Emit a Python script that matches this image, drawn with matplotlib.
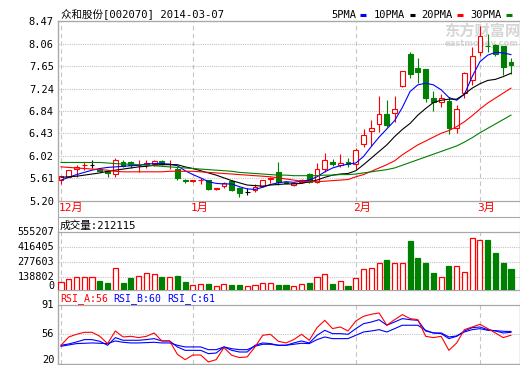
import numpy as np
import matplotlib
matplotlib.use('Agg')
import matplotlib.pyplot as plt
import matplotlib.transforms as mtransforms
from matplotlib.lines import Line2D

# 众和股份 daily bars, 2013-12-09 .. 2014-03-07
opens = [5.59, 5.64, 5.78, 5.85, 5.86, 5.78, 5.75, 5.69, 5.90, 5.91,
         5.85, 5.88, 5.88, 5.93, 5.87, 5.78, 5.58, 5.56, 5.58, 5.58,
         5.41, 5.47, 5.57, 5.44, 5.37, 5.40, 5.47, 5.60, 5.72, 5.55,
         5.49, 5.55, 5.69, 5.55, 5.78, 5.91, 5.86, 5.90, 5.87, 6.23,
         6.48, 6.59, 6.78, 6.79, 7.29, 7.87, 7.61, 7.59, 7.08, 7.00,
         7.02, 6.52, 7.17, 7.40, 7.90, 8.02, 8.03, 8.02, 7.73]
highs = [5.66, 5.77, 5.85, 5.91, 5.94, 5.80, 5.77, 5.98, 5.94, 5.93,
         5.95, 5.94, 5.95, 5.95, 5.95, 5.82, 5.60, 5.59, 5.62, 5.59,
         5.44, 5.55, 5.59, 5.46, 5.43, 5.50, 5.59, 5.64, 5.91, 5.57,
         5.55, 5.60, 5.70, 5.89, 6.07, 5.96, 6.05, 5.99, 6.17, 6.50,
         6.68, 7.10, 7.04, 7.10, 7.57, 7.90, 7.79, 7.59, 7.20, 7.14,
         7.09, 6.94, 7.55, 8.00, 8.38, 8.23, 8.06, 8.02, 7.79]
lows = [5.50, 5.63, 5.63, 5.76, 5.80, 5.72, 5.64, 5.64, 5.82, 5.80,
        5.73, 5.80, 5.84, 5.86, 5.79, 5.58, 5.53, 5.55, 5.50, 5.40,
        5.40, 5.43, 5.38, 5.27, 5.31, 5.37, 5.46, 5.53, 5.49, 5.50,
        5.48, 5.53, 5.52, 5.53, 5.73, 5.84, 5.82, 5.82, 5.78, 6.19,
        6.20, 6.46, 6.55, 6.64, 7.28, 7.43, 7.34, 6.99, 6.84, 6.91,
        6.42, 6.44, 7.08, 7.31, 7.83, 7.91, 7.83, 7.49, 7.51]
closes = [5.65, 5.76, 5.82, 5.86, 5.86, 5.75, 5.71, 5.95, 5.84, 5.86,
          5.86, 5.89, 5.93, 5.87, 5.88, 5.61, 5.56, 5.59, 5.59, 5.41,
          5.44, 5.53, 5.40, 5.35, 5.37, 5.46, 5.59, 5.61, 5.55, 5.52,
          5.53, 5.59, 5.55, 5.79, 5.95, 5.87, 5.89, 5.87, 6.13, 6.39,
          6.52, 6.78, 6.58, 6.88, 7.57, 7.51, 7.55, 7.08, 6.99, 7.07,
          6.52, 6.87, 7.52, 7.83, 8.20, 8.01, 7.87, 7.63, 7.67]
volumes = [92500, 117500, 138800, 138800, 138800, 101800, 83300, 216500, 83300, 126800,
           142500, 170300, 163800, 136000, 136000, 145300, 92500, 62000, 68500, 71200,
           50000, 68500, 62000, 62000, 50000, 59200, 77700, 77700, 62000, 62000,
           50000, 71200, 83300, 133200, 163800, 71200, 99000, 52700, 124000, 207300,
           216500, 262800, 293300, 262800, 262800, 469100, 311800, 265600, 173000, 133200,
           237800, 235000, 182300, 494100, 478400, 478400, 360900, 265600, 212115]

ma5 = [5.58, 5.63, 5.68, 5.72, 5.76, 5.79, 5.81, 5.82, 5.83, 5.84,
       5.85, 5.87, 5.88, 5.88, 5.87, 5.84, 5.75, 5.68, 5.62, 5.55,
       5.52, 5.51, 5.51, 5.46, 5.42, 5.41, 5.45, 5.50, 5.53, 5.55,
       5.54, 5.56, 5.58, 5.64, 5.73, 5.80, 5.84, 5.87, 5.89, 6.01,
       6.19, 6.36, 6.51, 6.66, 6.90, 7.19, 7.31, 7.34, 7.31, 7.22,
       7.08, 7.03, 7.14, 7.46, 7.73, 7.85, 7.90, 7.89, 7.86]
ma10 = [5.63, 5.64, 5.65, 5.67, 5.69, 5.71, 5.74, 5.76, 5.78, 5.80,
        5.82, 5.83, 5.85, 5.86, 5.86, 5.86, 5.82, 5.79, 5.75, 5.71,
        5.67, 5.62, 5.57, 5.53, 5.49, 5.48, 5.47, 5.49, 5.50, 5.51,
        5.51, 5.52, 5.55, 5.58, 5.63, 5.67, 5.69, 5.70, 5.75, 5.86,
        5.98, 6.10, 6.22, 6.37, 6.50, 6.61, 6.76, 6.88, 6.99, 7.03,
        7.05, 7.05, 7.14, 7.25, 7.33, 7.39, 7.41, 7.46, 7.52]
ma20 = [5.82, 5.81, 5.80, 5.79, 5.78, 5.77, 5.76, 5.74, 5.73, 5.73,
        5.73, 5.73, 5.73, 5.73, 5.74, 5.74, 5.74, 5.74, 5.73, 5.72,
        5.71, 5.70, 5.69, 5.68, 5.67, 5.66, 5.65, 5.64, 5.62, 5.60,
        5.58, 5.56, 5.55, 5.55, 5.56, 5.57, 5.58, 5.59, 5.64, 5.68,
        5.74, 5.80, 5.86, 5.93, 6.04, 6.13, 6.22, 6.29, 6.36, 6.43,
        6.48, 6.55, 6.64, 6.75, 6.87, 6.98, 7.07, 7.16, 7.25]
ma30 = [5.90, 5.90, 5.90, 5.90, 5.90, 5.90, 5.89, 5.88, 5.87, 5.87,
        5.86, 5.85, 5.84, 5.83, 5.82, 5.81, 5.80, 5.79, 5.78, 5.77,
        5.76, 5.75, 5.74, 5.72, 5.71, 5.70, 5.69, 5.68, 5.67, 5.67,
        5.66, 5.66, 5.66, 5.66, 5.67, 5.67, 5.68, 5.68, 5.69, 5.71,
        5.73, 5.75, 5.77, 5.80, 5.85, 5.90, 5.95, 6.00, 6.05, 6.10,
        6.15, 6.20, 6.27, 6.35, 6.44, 6.52, 6.60, 6.68, 6.76]

rsi_a = [42.9, 52.9, 56.1, 58.5, 58.5, 53.7, 44.9, 60.1, 52.9, 53.7,
         52.1, 53.7, 57.7, 48.1, 48.1, 32.0, 25.6, 31.2, 31.2, 22.8,
         25.6, 40.1, 30.9, 28.1, 28.9, 40.9, 54.9, 56.1, 47.7, 45.7,
         49.7, 56.1, 48.9, 64.1, 72.9, 63.0, 64.9, 60.1, 72.1, 77.8,
         80.2, 81.8, 67.0, 73.7, 79.8, 75.0, 73.7, 53.7, 52.1, 53.7,
         36.8, 45.7, 61.7, 64.9, 68.1, 63.0, 57.7, 52.1, 55.0]
rsi_b = [42.9, 44.5, 46.9, 49.7, 49.7, 47.7, 42.9, 52.1, 48.9, 48.9,
         48.9, 49.7, 50.9, 48.1, 48.1, 40.9, 36.8, 36.8, 36.8, 32.8,
         33.6, 40.9, 36.8, 34.8, 34.8, 42.9, 45.7, 44.9, 42.9, 42.9,
         45.7, 48.1, 45.7, 54.9, 60.9, 56.9, 56.9, 56.1, 62.9, 68.9,
         70.9, 73.7, 67.0, 70.9, 75.0, 73.7, 72.9, 60.1, 57.7, 56.9,
         50.9, 53.7, 60.1, 64.1, 64.9, 61.7, 60.1, 57.7, 58.5]
rsi_c = [41.7, 43.3, 44.9, 45.3, 45.7, 45.3, 44.9, 48.1, 46.5, 45.7,
         45.7, 46.1, 46.5, 45.7, 45.7, 42.9, 40.9, 40.9, 40.9, 37.6,
         37.6, 40.9, 38.8, 37.6, 37.6, 41.7, 44.1, 44.1, 42.9, 42.9,
         44.1, 45.3, 44.9, 49.7, 52.9, 50.9, 50.9, 50.9, 54.9, 58.9,
         60.1, 61.7, 58.9, 62.9, 67.0, 67.0, 67.0, 60.9, 57.7, 57.7,
         52.9, 54.1, 58.9, 61.7, 62.9, 60.9, 60.5, 59.7, 59.5]

price_ticks = [5.20, 5.61, 6.02, 6.43, 6.84, 7.24, 7.65, 8.06, 8.47]
vol_ticks = [0, 138802, 277603, 416405, 555207]
rsi_ticks = [20, 56, 91]
month_idx = [0, 17, 38, 54]
month_labels = ['12月', '1月', '2月', '3月']
ma_names = ['5PMA', '10PMA', '20PMA', '30PMA']

RED = '#ff0000'
GREEN = '#008000'
BLUE = '#0000ff'
GRID = '#c4c4c4'
FRAME = '#a8a8a8'
ma_colors = [BLUE, 'black', RED, GREEN]
MONO = ['DejaVu Sans Mono', 'Noto Sans CJK SC']

W, H = 520, 365
fig = plt.figure(figsize=(W / 100, H / 100), dpi=100)


def box(left, top, right, bottom):
    return [left / W, 1 - bottom / H, (right - left) / W, (bottom - top) / H]


x = np.arange(len(closes))
o, h, l, c = map(np.array, (opens, highs, lows, closes))
xlim = (-0.39, 59.1)

# background frame for strips between panels
bg = fig.add_axes(box(58, 21, 519.5, 364.3), zorder=0)
bg.set_xticks([]); bg.set_yticks([])
for s in bg.spines.values():
    s.set_color(FRAME)
fig.add_artist(Line2D([58 / W, 519.5 / W], [1 - 216.7 / H] * 2, color=FRAME, lw=0.8))

ax = fig.add_axes(box(58, 21, 519.5, 201), zorder=2)
av = fig.add_axes(box(58, 231.7, 519.5, 289.5), zorder=2)
ar = fig.add_axes(box(58, 305.3, 519.5, 364.3), zorder=2)

for a in (ax, av, ar):
    a.set_xlim(*xlim)
    a.set_xticks([])
    a.patch.set_alpha(0)
    for s in a.spines.values():
        s.set_color(FRAME)
        s.set_linewidth(0.9)
    a.tick_params(axis='y', length=0, pad=3)
    for m in month_idx:
        a.axvline(m, color=GRID, ls=(0, (4, 3)), lw=0.8, zorder=0)

# watermark, behind the candles
fig.text(482 / W, 1 - 31 / H, '东方财富网', color='#d6d6d6', fontsize=11,
         family=['Noto Sans CJK SC'], fontweight='bold', ha='center', va='center', zorder=1)
fig.text(482 / W, 1 - 43 / H, 'eastmoney.com', color='#d6d6d6', fontsize=6,
         family='DejaVu Sans', fontweight='bold', ha='center', va='center', zorder=1)

# --- price panel ---
ax.set_ylim(5.20, 8.47)
ax.set_yticks(price_ticks)
ax.set_yticklabels([f'{p:.2f}' for p in price_ticks], fontfamily='DejaVu Sans Mono', fontsize=7.5)
for p in price_ticks[1:-1]:
    ax.axhline(p, color=GRID, ls=(0, (1, 1)), lw=0.8, zorder=0)

w = 0.62
up, dn, fl = c > o, c < o, c == o
ax.vlines(x[up], l[up], h[up], color=RED, lw=0.8, zorder=2)
ax.vlines(x[dn], l[dn], h[dn], color=GREEN, lw=0.8, zorder=2)
ax.vlines(x[fl], l[fl], h[fl], color='black', lw=0.8, zorder=2)
ax.bar(x[up], (c - o)[up], w, bottom=o[up], facecolor='white', edgecolor=RED, lw=0.8, zorder=3)
ax.bar(x[dn], (o - c)[dn], w, bottom=c[dn], facecolor=GREEN, edgecolor=GREEN, lw=0.8, zorder=3)
ax.hlines(c[fl], x[fl] - w / 2, x[fl] + w / 2, color='black', lw=0.8, zorder=3)

for ma, col in zip([ma5, ma10, ma20, ma30], ma_colors):
    ax.plot(x, ma, color=col, lw=0.8, zorder=4)

trans = mtransforms.blended_transform_factory(ax.transData, ax.transAxes)
for m, lab in zip(month_idx, month_labels):
    ax.text(m - 0.3, -0.012, lab, transform=trans, color=RED, fontsize=8,
            family=MONO, va='top', ha='left')

# title and legend
fig.text(61 / W, 1 - 15 / H, '众和股份[002070] 2014-03-07', fontsize=7.6,
         family=MONO, va='center', ha='left')
leg_x = [331, 374, 421, 470]
for lx, name, col in zip(leg_x, ma_names, ma_colors):
    fig.text(lx / W, 1 - 14.5 / H, name, fontsize=7.5, family='DejaVu Sans Mono',
             va='center', ha='left')
    dx = (len(name) * 6.3 + 4) / W
    fig.add_artist(Line2D([lx / W + dx, lx / W + dx + 6 / W], [1 - 14.5 / H] * 2,
                          color=col, lw=2.2, solid_capstyle='butt'))

# --- volume panel ---
vol_lo, vol_hi = 20400, 555207
av.set_ylim(vol_lo, vol_hi)
av.set_yticks([])
for v in vol_ticks[1:-1]:
    av.axhline(v, color=GRID, ls=(0, (1, 1)), lw=0.8, zorder=0)
vv = np.array(volumes)
vup = c >= o
av.bar(x[vup], vv[vup], 0.66, facecolor='white', edgecolor=RED, lw=0.9, zorder=3)
av.bar(x[~vup], vv[~vup], 0.66, facecolor=GREEN, edgecolor=GREEN, lw=0.9, zorder=3)
vtrans = mtransforms.blended_transform_factory(av.transAxes, av.transData)
for v in vol_ticks:
    yv = max(v, vol_lo + 0.06 * (vol_hi - vol_lo))
    av.text(-0.008, yv, str(v), transform=vtrans, ha='right', va='center',
            fontsize=7.3, family='DejaVu Sans Mono')
av.text(0.003, 1.02, f'成交量:{volumes[-1]}', transform=av.transAxes, fontsize=7.7,
        family=MONO, va='bottom', ha='left')

# --- RSI panel ---
rsi_lo, rsi_hi = 20, 91
ar.set_ylim(rsi_lo, rsi_hi)
ar.set_yticks([])
ar.axhline(56, color=GRID, ls=(0, (1, 1)), lw=0.8, zorder=0)
ar.plot(x, rsi_c, color=BLUE, lw=0.8, zorder=3)
ar.plot(x, rsi_b, color=BLUE, lw=0.8, zorder=3)
ar.plot(x, rsi_a, color=RED, lw=0.8, zorder=4)
rtrans = mtransforms.blended_transform_factory(ar.transAxes, ar.transData)
for v in rsi_ticks:
    yv = max(v, rsi_lo + 0.07 * (rsi_hi - rsi_lo))
    ar.text(-0.008, yv, str(v), transform=rtrans, ha='right', va='center',
            fontsize=7.5, family='DejaVu Sans Mono')
rsi_labels = [('RSI_A:56', RED, 60), ('RSI_B:60', BLUE, 113), ('RSI_C:61', BLUE, 167)]
for txt, col, px in rsi_labels:
    fig.text(px / W, 1 - 299 / H, txt, color=col, fontsize=7.1,
             family='DejaVu Sans Mono', va='center', ha='left')

fig.savefig('out.png', dpi=100)
